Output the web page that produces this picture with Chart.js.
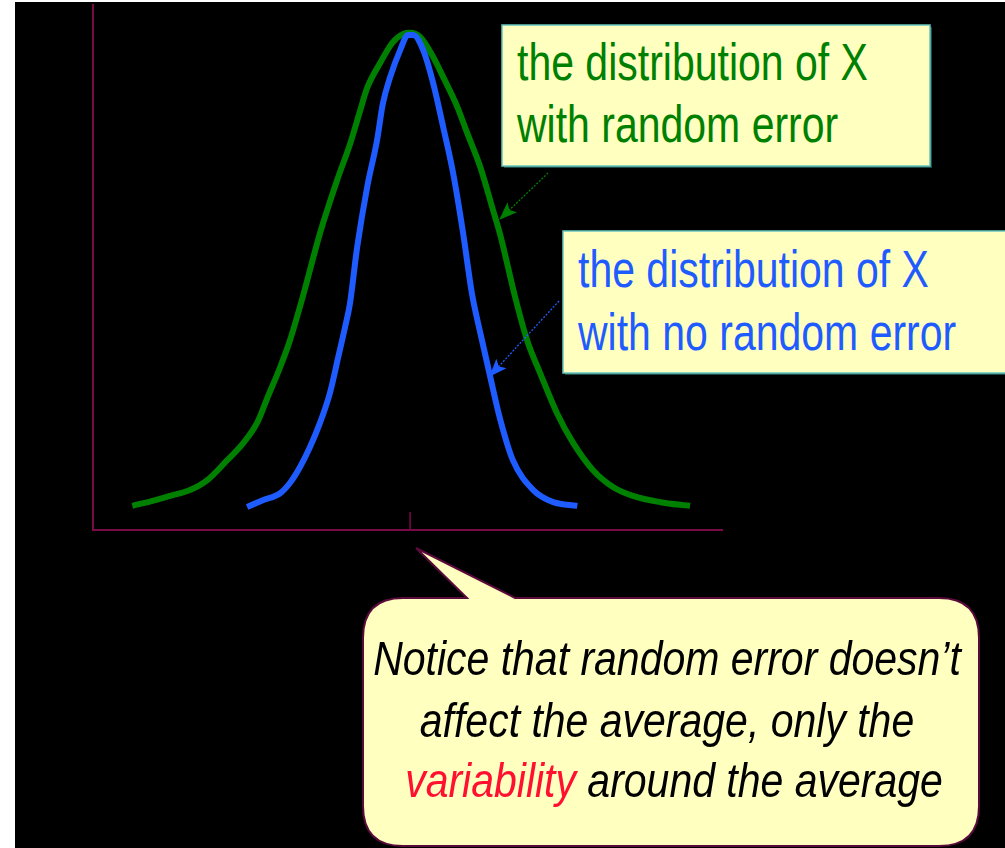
<!DOCTYPE html>
<html>
<head>
<meta charset="utf-8">
<script src="https://cdn.jsdelivr.net/npm/chart.js@4"></script>
<style>
  html, body { margin: 0; padding: 0; background: #fff; }
  #stage { position: relative; width: 1005px; height: 848px; overflow: hidden; background: #fff; }
  #black { position: absolute; left: 15px; top: 2px; right: 0; bottom: 0; background: #000; }
  #chart { position: absolute; left: 0; top: 0; }
  #notes { position: absolute; left: 0; top: 0; }
</style>
</head>
<body>
<div id="stage">
  <div id="black"></div>
  <canvas id="chart" width="1005" height="848"></canvas>
  <svg id="notes" width="1005" height="848" xmlns="http://www.w3.org/2000/svg">
    <defs>
      <marker id="headG" markerWidth="18" markerHeight="14" refX="17" refY="7" orient="auto" markerUnits="userSpaceOnUse">
        <path d="M0,0 L18,7 L0,14 L4,7 Z" fill="#008000"/>
      </marker>
      <marker id="headB" markerWidth="18" markerHeight="14" refX="17" refY="7" orient="auto" markerUnits="userSpaceOnUse">
        <path d="M0,0 L18,7 L0,14 L4,7 Z" fill="#1f5cff"/>
      </marker>
    </defs>

    <!-- box: with random error -->
    <rect x="504" y="27" width="428" height="141" fill="#1d4a44"/>
    <rect x="502" y="25" width="428" height="141" fill="#ffffc0" stroke="#66c8c0" stroke-width="1.5"/>
    <g font-family="Liberation Sans, Arial, sans-serif" font-size="41" fill="#008000">
      <text transform="translate(517,80) scale(1,1.26)">the distribution of X</text>
      <text transform="translate(517,142) scale(1,1.26)">with random error</text>
    </g>
    <line x1="548" y1="173" x2="500" y2="219" stroke="#008000" stroke-width="1.3" stroke-dasharray="2,1.5" marker-end="url(#headG)"/>

    <!-- box: with no random error -->
    <rect x="565" y="233" width="460" height="142" fill="#1d4a44"/>
    <rect x="563" y="231" width="460" height="142" fill="#ffffc0" stroke="#66c8c0" stroke-width="1.5"/>
    <g font-family="Liberation Sans, Arial, sans-serif" font-size="41" fill="#1f5cff">
      <text transform="translate(578,287) scale(1,1.26)">the distribution of X</text>
      <text transform="translate(578,350) scale(1,1.26)">with no random error</text>
    </g>
    <line x1="559" y1="301" x2="490" y2="376" stroke="#1f5cff" stroke-width="1.3" stroke-dasharray="2,1.5" marker-end="url(#headB)"/>

    <!-- callout -->
    <path d="M 403 598 L 467 598 L 416 548 L 515 598 L 939 598 Q 979 598 979 638 L 979 806 Q 979 846 939 846 L 403 846 Q 363 846 363 806 L 363 638 Q 363 598 403 598 Z"
          fill="#ffffc0" stroke="#5a0b3c" stroke-width="2"/>
    <g font-family="Liberation Sans, Arial, sans-serif" font-size="41" font-style="italic" fill="#000" text-anchor="middle">
      <text transform="translate(667,675) scale(1,1.19)">Notice that random error doesn’t</text>
      <text transform="translate(667,737) scale(1,1.19)">affect the average, only the</text>
      <text transform="translate(674,797) scale(1,1.19)"><tspan fill="#ff1030">variability</tspan> around the average</text>
    </g>
  </svg>
</div>
<script>
// 誤差なしの分布（青）
const noErrorX = [-3.11, -2.80, -2.48, -2.29, -2.10, -1.91, -1.72, -1.53, -1.37, -1.24, -1.15, -1.01, -0.82, -0.63, -0.52, -0.38, -0.19, -0.04, 0.06, 0.25, 0.44, 0.63, 0.82, 1.01, 1.18, 1.34, 1.53, 1.72, 1.96, 2.35, 2.73, 3.19];
const noErrorY = [0.044, 0.057, 0.070, 0.090, 0.120, 0.158, 0.204, 0.261, 0.330, 0.387, 0.430, 0.539, 0.653, 0.743, 0.812, 0.863, 0.914, 0.943, 0.943, 0.914, 0.851, 0.768, 0.680, 0.566, 0.450, 0.375, 0.291, 0.210, 0.133, 0.076, 0.053, 0.046];

// 誤差ありの分布（緑）
const withErrorX = [-5.30, -4.86, -4.58, -4.20, -3.87, -3.49, -3.18, -2.92, -2.73, -2.48, -2.29, -2.06, -1.72, -1.39, -1.14, -0.95, -0.82, -0.57, -0.34, -0.13, 0.00, 0.19, 0.44, 0.63, 0.90, 1.09, 1.34, 1.58, 1.72, 2.00, 2.23, 2.48, 2.80, 3.11, 3.49, 3.87, 4.25, 4.77, 5.34];
const withErrorY = [0.046, 0.057, 0.065, 0.076, 0.095, 0.133, 0.166, 0.204, 0.250, 0.310, 0.362, 0.440, 0.565, 0.667, 0.737, 0.800, 0.842, 0.890, 0.928, 0.945, 0.947, 0.939, 0.901, 0.863, 0.806, 0.756, 0.691, 0.610, 0.562, 0.445, 0.362, 0.299, 0.223, 0.166, 0.114, 0.082, 0.065, 0.053, 0.046];

const meanX = 0;
const axisColor = '#7a0a46';

function toPoints(xs, ys) {
    return xs.map((x, i) => ({ x: x, y: ys[i] }));
}

// 平均位置の目盛り
const meanTickPlugin = {
    id: 'meanTick',
    afterDraw(chart) {
        const ctx = chart.ctx;
        const px = chart.scales.x.getPixelForValue(meanX);
        const bottom = chart.chartArea.bottom;
        ctx.save();
        ctx.strokeStyle = axisColor;
        ctx.lineWidth = 1.5;
        ctx.beginPath();
        ctx.moveTo(px, bottom);
        ctx.lineTo(px, bottom - 18);
        ctx.stroke();
        ctx.restore();
    }
};

const ctx = document.getElementById('chart').getContext('2d');
new Chart(ctx, {
    type: 'line',
    data: {
        datasets: [{
            label: 'no random error',
            data: toPoints(noErrorX, noErrorY),
            borderColor: '#1f5cff',
            borderWidth: 6,
            pointRadius: 0,
            cubicInterpolationMode: 'monotone',
            fill: false,
            order: 0
        }, {
            label: 'random error',
            data: toPoints(withErrorX, withErrorY),
            borderColor: '#008000',
            borderWidth: 6,
            pointRadius: 0,
            cubicInterpolationMode: 'monotone',
            fill: false,
            order: 1
        }]
    },
    options: {
        responsive: false,
        animation: false,
        layout: {
            padding: { left: 93, right: 283, top: 5, bottom: 318 }
        },
        scales: {
            x: {
                type: 'linear',
                min: -6.05,
                max: 5.95,
                grid: { display: false },
                ticks: { display: false },
                border: { display: true, color: axisColor, width: 2 },
                afterFit: s => { s.height = 0; }
            },
            y: {
                min: 0,
                max: 1,
                grid: { display: false },
                ticks: { display: false },
                border: { display: true, color: axisColor, width: 2 },
                afterFit: s => { s.width = 0; }
            }
        },
        plugins: {
            legend: { display: false },
            tooltip: { enabled: false }
        }
    },
    plugins: [meanTickPlugin]
});
</script>
</body>
</html>
